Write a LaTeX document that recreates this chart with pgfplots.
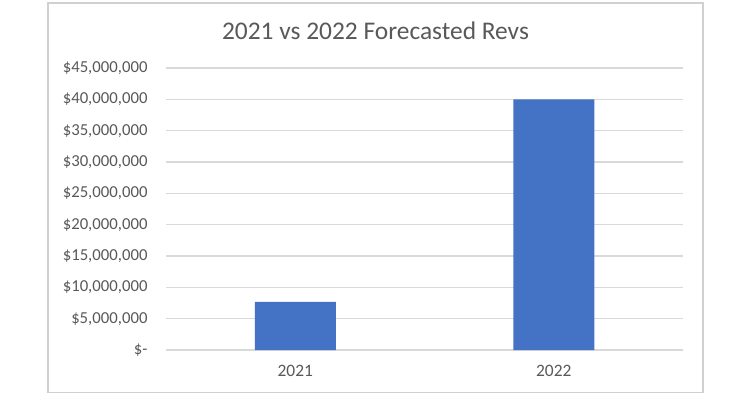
\documentclass[border=0pt]{standalone}
\usepackage{pgfplots}
\pgfplotsset{compat=1.18}
\usepackage{fontspec}
\setmainfont{Carlito}
\definecolor{barblue}{HTML}{4472C4}
\definecolor{gridgray}{HTML}{D9D9D9}
\definecolor{framegray}{HTML}{D0D0D0}
\definecolor{txtgray}{HTML}{595959}
\begin{document}
\begin{tikzpicture}[x=1bp,y=1bp]
\path[use as bounding box] (0,0) rectangle (752,394);
\fill[white] (0,0) rectangle (752,394);
\draw[framegray, line width=1.5bp] (48,1.5) rectangle (703,391);
\node[text=txtgray, font=\fontsize{25.5}{25.5}\selectfont] at (375.5,363.5) {2021 vs 2022 Forecasted Revs};
\begin{axis}[
  at={(166bp,44bp)}, anchor=south west,
  width=517bp, height=282bp, scale only axis,
  xmin=0, xmax=2, ymin=0, ymax=45000000,
  xtick={0.5,1.5}, xticklabels={2021,2022},
  ytick={0,5000000,10000000,15000000,20000000,25000000,30000000,35000000,40000000,45000000},
  yticklabels={{\$-\hspace{10bp}},{\$5,000,000},{\$10,000,000},{\$15,000,000},{\$20,000,000},{\$25,000,000},{\$30,000,000},{\$35,000,000},{\$40,000,000},{\$45,000,000}},
  scaled y ticks=false,
  axis line style={draw=none},
  tick style={draw=none},
  ymajorgrids, grid style={gridgray, line width=1.2bp},
  yticklabel style={font=\fontsize{16.8}{16.8}\selectfont, text=txtgray, xshift=-15bp},
  xticklabel style={font=\fontsize{17.5}{17.5}\selectfont, text=txtgray, yshift=-7bp},
  ybar, bar width=81bp,
  clip=false,
]
\addplot[fill=barblue, draw=none] coordinates {(0.5,7700000) (1.5,40000000)};
\end{axis}
\end{tikzpicture}
\end{document}
